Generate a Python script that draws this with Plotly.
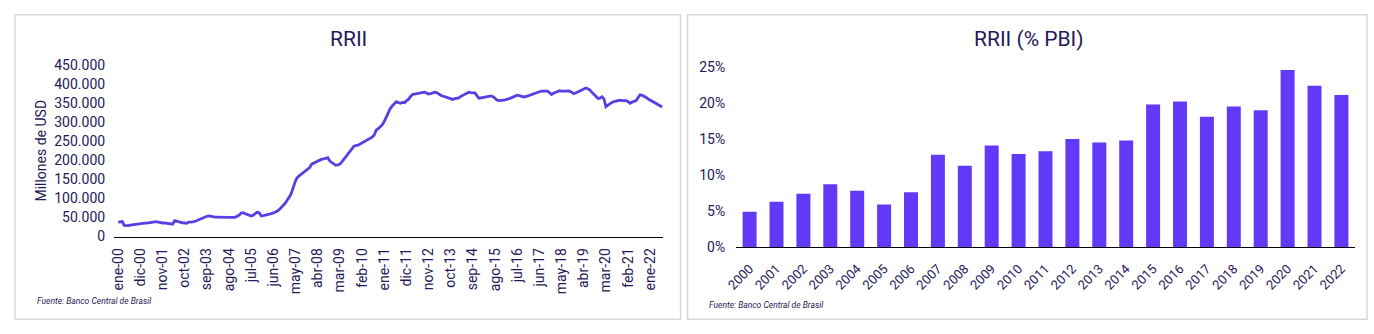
import plotly.graph_objects as go

# ---------------- data ----------------
MESES = ["ene", "feb", "mar", "abr", "may", "jun", "jul", "ago", "sep", "oct", "nov", "dic"]
ANIOS = list(range(2000, 2023))

# Reservas internacionales mensuales (millones de USD), ene-2000 .. jul-2022
RRII_2000 = [37500, 38500, 39000, 29000, 28000, 28500, 30000, 31000, 31500, 32500, 33000, 33000]
RRII_2001 = [34000, 35000, 35000, 35500, 36000, 36500, 37500, 39000, 37500, 36000, 35500, 35800]
RRII_2002 = [35000, 34000, 33000, 32500, 41500, 40000, 38000, 36000, 36000, 35500, 34500, 37800]
RRII_2003 = [37500, 38500, 39500, 42000, 44000, 46000, 47500, 50000, 53000, 54000, 52500, 51500]
RRII_2004 = [51000, 51000, 50500, 50500, 50000, 50000, 49500, 50000, 50000, 50000, 50500, 53000]
RRII_2005 = [56000, 61500, 62500, 60000, 58000, 57000, 54000, 56000, 60000, 64000, 62000, 54000]
RRII_2006 = [55000, 56000, 57000, 58000, 60000, 62000, 64000, 67000, 71000, 76000, 82000, 88000]
RRII_2007 = [97000, 104000, 115000, 130000, 147000, 156000, 160000, 163000, 168000, 171000, 177000, 181000]
RRII_2008 = [190000, 193000, 196000, 199000, 201000, 203000, 204000, 206000, 207000, 198000, 194000, 190000]
RRII_2009 = [187000, 188000, 190000, 196000, 203000, 211000, 219000, 226000, 232000, 237000, 239000, 240000]
RRII_2010 = [243000, 246000, 248000, 251000, 254000, 257000, 261000, 266000, 279000, 283000, 289000, 293000]
RRII_2011 = [302000, 315000, 327000, 336000, 343000, 349000, 354000, 352000, 350000, 352000, 351000, 356000]
RRII_2012 = [360000, 367000, 373000, 374000, 375000, 376000, 377000, 378000, 379000, 377000, 374000, 375000]
RRII_2013 = [377000, 379000, 378000, 374000, 371000, 369000, 367000, 365000, 363000, 361000, 360000, 362000]
RRII_2014 = [363000, 364000, 368000, 371000, 374000, 377000, 379000, 378000, 377000, 377000, 370000, 363000]
RRII_2015 = [364000, 365000, 366000, 368000, 369000, 369000, 367000, 362000, 358000, 357000, 357000, 358000]
RRII_2016 = [359000, 360000, 362000, 364000, 367000, 370000, 371000, 370000, 368000, 367000, 367000, 369000]
RRII_2017 = [371000, 373000, 375000, 378000, 380000, 381500, 382000, 382000, 381500, 381500, 378000, 373000]
RRII_2018 = [376000, 379000, 382000, 383000, 382000, 381000, 381500, 382000, 381500, 379000, 375000, 377000]
RRII_2019 = [380000, 383000, 386000, 388000, 390000, 388000, 385000, 379000, 373000, 367000, 363000, 363000]
RRII_2020 = [367000, 362000, 341000, 345000, 349000, 352000, 354000, 356000, 357000, 358000, 357000, 357000]
RRII_2021 = [357000, 354000, 350000, 353000, 356000, 357000, 365000, 372000, 371000, 369000, 365000, 361000]
RRII_2022 = [358000, 354000, 350000, 347000, 344000, 343000, 340000]

# RRII como % del PBI, anual
PBI_ANIOS = [str(a) for a in ANIOS]
RRII_PBI = [4.9, 6.3, 7.4, 8.7, 7.8, 5.9, 7.6, 12.8, 11.3, 14.1, 12.9, 13.3, 15.0,
            14.5, 14.8, 19.8, 20.2, 18.1, 19.5, 19.0, 24.6, 22.4, 21.1]

rrii = (RRII_2000 + RRII_2001 + RRII_2002 + RRII_2003 + RRII_2004 + RRII_2005 +
        RRII_2006 + RRII_2007 + RRII_2008 + RRII_2009 + RRII_2010 + RRII_2011 +
        RRII_2012 + RRII_2013 + RRII_2014 + RRII_2015 + RRII_2016 + RRII_2017 +
        RRII_2018 + RRII_2019 + RRII_2020 + RRII_2021 + RRII_2022)
meses_lbl = [f"{m}-{str(a)[2:]}" for a in ANIOS for m in MESES][:len(rrii)]
tick_lbl = meses_lbl[::11]

# ---------------- style ----------------
W, H = 1374, 334
TXT = "#261858"
LINE = "#5A3DE3"
BAR = "#6339F8"
FONT = "Roboto"

def px(x):
    return x / W

def py(y):
    return (H - y) / H

fig = go.Figure()
fig.add_trace(go.Scatter(x=meses_lbl, y=rrii, mode="lines",
                         line=dict(color=LINE, width=2.8), xaxis="x", yaxis="y",
                         showlegend=False, hoverinfo="x+y"))
fig.add_trace(go.Bar(x=PBI_ANIOS, y=RRII_PBI, marker=dict(color=BAR, line=dict(width=0)),
                     xaxis="x2", yaxis="y2", showlegend=False))

tf = dict(family=FONT, size=14, color=TXT)

fig.update_layout(
    width=W, height=H, autosize=False,
    margin=dict(l=0, r=0, t=0, b=0, pad=0),
    paper_bgcolor="white", plot_bgcolor="white",
    separators=",.",
    font=dict(family=FONT, color=TXT, size=14),
    bargap=0.48,
    xaxis=dict(domain=[px(104), px(657)], type="category", range=[-2, len(rrii) - 0.8],
               tickmode="array", tickvals=tick_lbl, ticktext=tick_lbl, tickangle=-90,
               showline=True, linecolor="black", linewidth=1.2, ticks="",
               showgrid=False, zeroline=False, anchor="y",
               tickfont=tf, ticklabelstandoff=5),
    yaxis=dict(domain=[py(240), py(60)], range=[0, 450000], tickmode="linear",
               tick0=0, dtick=50000, tickformat=",.0f", showgrid=False, zeroline=False,
               showline=False, ticks="", anchor="x",
               tickfont=tf, ticklabelstandoff=8),
    xaxis2=dict(domain=[px(731), px(1354.7)], type="category", range=[-0.5, 22.5],
                tickangle=-45, showline=True, linecolor="black", linewidth=1.2, ticks="",
                showgrid=False, zeroline=False, anchor="y2",
                tickfont=dict(family=FONT, size=13, color=TXT), ticklabelstandoff=8),
    yaxis2=dict(domain=[py(251), py(62)], range=[0, 25], tickmode="linear", tick0=0,
                dtick=5, ticksuffix="%", showgrid=False, zeroline=False, showline=False,
                ticks="", anchor="x2",
                tickfont=tf, ticklabelstandoff=10),
    shapes=[
        dict(type="rect", xref="paper", yref="paper", x0=px(4), x1=px(675), y0=py(327), y1=py(7),
             line=dict(color="#D9D9D9", width=1.5), fillcolor="rgba(0,0,0,0)", layer="below"),
        dict(type="rect", xref="paper", yref="paper", x0=px(682), x1=px(1367), y0=py(327), y1=py(7),
             line=dict(color="#D9D9D9", width=1.5), fillcolor="rgba(0,0,0,0)", layer="below"),
    ],
    annotations=[
        dict(text="RRII", x=px(340), y=py(33), xref="paper", yref="paper", showarrow=False,
             xanchor="center", yanchor="middle",
             font=dict(family=FONT, size=21, color=TXT)),
        dict(text="RRII (% PBI)", x=px(1026), y=py(33), xref="paper", yref="paper", showarrow=False,
             xanchor="center", yanchor="middle",
             font=dict(family=FONT, size=21, color=TXT)),
        dict(text="Millones de USD", x=px(30), y=py(150), xref="paper", yref="paper", showarrow=False,
             textangle=-90, xanchor="center", yanchor="middle",
             font=dict(family=FONT, size=14, color=TXT)),
        dict(text="<i>Fuente: Banco Central de Brasil</i>", x=px(24), y=py(308), xref="paper",
             yref="paper", showarrow=False, xanchor="left", yanchor="middle",
             font=dict(family=FONT, size=8.5, color=TXT)),
        dict(text="<i>Fuente: Banco Central de Brasil</i>", x=px(702), y=py(311.5), xref="paper",
             yref="paper", showarrow=False, xanchor="left", yanchor="middle",
             font=dict(family=FONT, size=8.5, color=TXT)),
    ],
)

fig.write_html("out.html")
